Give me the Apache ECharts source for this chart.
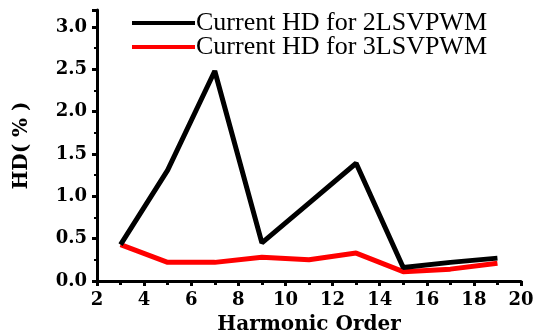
<!DOCTYPE html>
<html><head><meta charset="utf-8">
<script src="https://cdn.jsdelivr.net/npm/echarts@6/dist/echarts.min.js"></script>
<style>html,body{margin:0;padding:0;background:#fff}#c{width:534px;height:334px}</style>
</head><body><div id="c"></div>
<script>
const orders = [3, 5, 7, 9, 11, 13, 15, 17, 19];
const hd2L = [0.43, 1.31, 2.48, 0.45, 0.92, 1.39, 0.16, 0.22, 0.27];
const hd3L = [0.43, 0.22, 0.22, 0.28, 0.25, 0.33, 0.11, 0.14, 0.21];
const seriesNames = ['Current HD for 2LSVPWM', 'Current HD for 3LSVPWM'];
const xTitle = 'Harmonic Order';
const yTitle = 'HD( % )';

const serif = '"Liberation Serif", "Times New Roman", serif';
const wide = '"DejaVu Serif", serif';
const chart = echarts.init(document.getElementById('c'));
chart.setOption({
  animation: false,
  backgroundColor: '#fff',
  grid: {left: 97, right: 13, top: 10, bottom: 53, containLabel: false, outerBoundsMode: 'none'},
  legend: {
    left: 127, top: 5, orient: 'vertical', itemGap: -2,
    itemWidth: 63, itemHeight: 26,
    textStyle: {fontFamily: serif, fontSize: 26, color: '#000', padding: [0,0,0,-4]},
    data: seriesNames.map(n => ({name: n, icon: 'path://M0,11L63,11L63,15L0,15Z'}))
  },
  xAxis: {
    type: 'value', min: 2, max: 20, interval: 2,
    name: xTitle, nameLocation: 'middle', nameGap: 34,
    nameTextStyle: {fontFamily: wide, fontSize: 20, fontWeight: 'bold', color: '#000'},
    axisLine: {onZero: false, lineStyle: {color: '#000', width: 3}},
    axisTick: {show: true, length: 5, lineStyle: {width: 3, color: '#000'}},
    minorTick: {show: true, splitNumber: 2, length: 4, lineStyle: {width: 3, color: '#000'}},
    splitLine: {show: false},
    axisLabel: {fontFamily: wide, fontSize: 18, fontWeight: 'bold', color: '#000', margin: 10}
  },
  yAxis: {
    type: 'value', min: 0, max: 3.2, interval: 0.5,
    name: yTitle, nameLocation: 'middle', nameGap: 65, nameRotate: 90,
    nameTextStyle: {fontFamily: wide, fontSize: 20, fontWeight: 'bold', color: '#000'},
    axisLine: {show: true, lineStyle: {color: '#000', width: 3}},
    axisTick: {show: true, length: 5, lineStyle: {width: 3, color: '#000'}},
    minorTick: {show: true, splitNumber: 2, length: 3, lineStyle: {width: 2, color: '#000'}},
    splitLine: {show: false},
    axisLabel: {fontFamily: wide, fontSize: 18, fontWeight: 'bold', color: '#000', margin: 10,
      showMaxLabel: false, formatter: v => v.toFixed(1)}
  },
  series: [
    {name: seriesNames[0], type: 'line', data: orders.map((x,i)=>[x,hd2L[i]]),
     showSymbol: false, symbol: 'none', lineStyle: {color: '#000', width: 5}, itemStyle: {color: '#000'}, z: 3},
    {name: seriesNames[1], type: 'line', data: orders.map((x,i)=>[x,hd3L[i]]),
     showSymbol: false, symbol: 'none', lineStyle: {color: '#ff0000', width: 5}, itemStyle: {color: '#ff0000'}, z: 2}
  ]
});
</script></body></html>
